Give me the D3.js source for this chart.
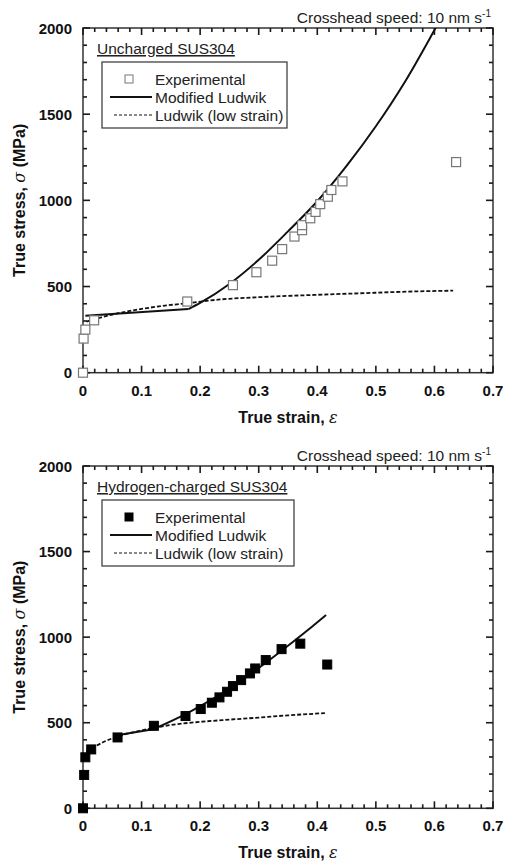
<!DOCTYPE html>
<html lang="en">
<head>
  <meta charset="UTF-8">
  <script src="https://d3js.org/d3.v7.min.js"></script>
  <style>
    body { margin: 0; background: #fff; }
    svg { display: block; font-family: "Liberation Sans", Arial, sans-serif; }
    .tick-label { font-size: 15px; font-weight: bold; fill: #111; }
    .axis-title { font-size: 16px; font-weight: bold; fill: #111; }
    .note { font-size: 15.5px; fill: #222; }
  </style>
</head>
<body>
<div id="chart"></div>
<script>
  // axis ticks
  const xTicks = [0, 0.1, 0.2, 0.3, 0.4, 0.5, 0.6, 0.7];
  const yTicks = [0, 500, 1000, 1500, 2000];
  const xMinor = [0.02, 0.04, 0.06, 0.08, 0.12, 0.14, 0.16, 0.18, 0.22, 0.24, 0.26, 0.28, 0.32, 0.34, 0.36, 0.38,
                  0.42, 0.44, 0.46, 0.48, 0.52, 0.54, 0.56, 0.58, 0.62, 0.64, 0.66, 0.68];
  const yMinor = [100, 200, 300, 400, 600, 700, 800, 900, 1100, 1200, 1300, 1400, 1600, 1700, 1800, 1900];

  // uncharged SUS304
  const unchargedExpStrain = [0, 0.001, 0.004, 0.019, 0.178, 0.256, 0.296, 0.323, 0.340, 0.361, 0.374, 0.374, 0.388, 0.397, 0.405, 0.418, 0.424, 0.443, 0.637];
  const unchargedExpStress = [0, 198, 250, 304, 413, 508, 583, 650, 717, 790, 827, 856, 896, 933, 978, 1021, 1060, 1110, 1222];
  // modified Ludwik: straight part up to the kink, then the curved part
  const unchargedModLowStrain = [0.004, 0.18];
  const unchargedModLowStress = [331, 369];
  const unchargedModHighStrain = [0.18, 0.2, 0.25, 0.3, 0.35, 0.4, 0.45, 0.5, 0.55, 0.602, 0.62];
  const unchargedModHighStress = [369, 405, 515, 655, 820, 995, 1200, 1430, 1690, 2000, 2110];
  const unchargedLowStrain = [0.006, 0.03, 0.06, 0.1, 0.15, 0.177, 0.234, 0.3, 0.4, 0.5, 0.541, 0.632];
  const unchargedLowStress = [297, 320, 345, 370, 393, 403, 425, 438, 452, 464, 469, 476];

  // hydrogen-charged SUS304
  const chargedExpStrain = [0, 0.002, 0.004, 0.014, 0.059, 0.121, 0.175, 0.201, 0.220, 0.233, 0.246, 0.256, 0.270, 0.285, 0.294, 0.312, 0.339, 0.371, 0.417];
  const chargedExpStress = [0, 195, 298, 344, 414, 482, 539, 580, 617, 648, 681, 714, 749, 788, 817, 866, 930, 962, 840];
  const chargedModLowStrain = [0.055, 0.12];
  const chargedModLowStress = [425, 462];
  const chargedModHighStrain = [0.12, 0.175, 0.2, 0.25, 0.3, 0.35, 0.385, 0.415];
  const chargedModHighStress = [462, 550, 597, 700, 820, 950, 1045, 1130];
  const chargedLowStrain = [0.006, 0.02, 0.04, 0.06, 0.1, 0.15, 0.2, 0.25, 0.3, 0.35, 0.413];
  const chargedLowStress = [330, 360, 395, 420, 455, 487, 505, 518, 530, 543, 556];

  const width = 505, height = 861;
  const svg = d3.select('#chart').append('svg').attr('width', width).attr('height', height);

  const zip = (xs, ys) => xs.map((x, i) => [x, ys[i]]);

  function drawPanel(cfg) {
    const x = d3.scaleLinear().domain([0, 0.7]).range([83, 493]);
    const y = d3.scaleLinear().domain([0, 2000]).range([cfg.bottom, cfg.top]);
    const g = svg.append('g');

    const clipId = 'clip' + cfg.id;
    svg.append('clipPath').attr('id', clipId)
      .append('rect').attr('x', 83).attr('y', cfg.top).attr('width', 410).attr('height', cfg.bottom - cfg.top);

    g.append('rect').attr('x', 83).attr('y', cfg.top).attr('width', 410).attr('height', cfg.bottom - cfg.top)
      .attr('fill', 'none').attr('stroke', '#333').attr('stroke-width', 1.5);

    // inward ticks on all four sides
    const tickG = g.append('g').attr('fill', '#1a1a1a');
    [[xTicks, 7], [xMinor, 4]].forEach(([vals, len]) => {
      tickG.selectAll(null).data(vals).enter().append('rect')
        .attr('x', d => x(d) - 0.8).attr('y', cfg.bottom - len).attr('width', 1.6).attr('height', len);
      tickG.selectAll(null).data(vals).enter().append('rect')
        .attr('x', d => x(d) - 0.8).attr('y', cfg.top).attr('width', 1.6).attr('height', len);
    });
    [[yTicks, 7], [yMinor, 4]].forEach(([vals, len]) => {
      tickG.selectAll(null).data(vals).enter().append('rect')
        .attr('x', 83).attr('y', d => y(d) - 0.8).attr('width', len).attr('height', 1.6);
      tickG.selectAll(null).data(vals).enter().append('rect')
        .attr('x', 493 - len).attr('y', d => y(d) - 0.8).attr('width', len).attr('height', 1.6);
    });

    // tick labels
    g.selectAll('.xl').data(xTicks).enter().append('text')
      .attr('class', 'tick-label').attr('x', d => x(d)).attr('y', cfg.bottom + 23)
      .attr('text-anchor', 'middle').text(d => d === 0 ? '0' : d3.format('.1f')(d));
    g.selectAll('.yl').data(yTicks).enter().append('text')
      .attr('class', 'tick-label').attr('x', 72).attr('y', d => y(d) + 5.5)
      .attr('text-anchor', 'end').text(d => d);

    // axis titles
    const xt = g.append('text').attr('class', 'axis-title').attr('x', 288).attr('y', cfg.bottom + 50)
      .attr('text-anchor', 'middle');
    xt.append('tspan').text('True strain, ');
    xt.append('tspan').attr('font-style', 'italic').attr('font-family', 'DejaVu Serif').attr('font-weight', 'normal').text('ε');

    const yt = g.append('text').attr('class', 'axis-title')
      .attr('transform', `translate(25,${(cfg.top + cfg.bottom) / 2}) rotate(-90)`)
      .attr('text-anchor', 'middle');
    yt.append('tspan').text('True stress, ');
    yt.append('tspan').attr('font-style', 'italic').attr('font-family', 'DejaVu Serif').attr('font-weight', 'normal').text('σ');
    yt.append('tspan').text(' (MPa)');

    // crosshead note
    const note = g.append('text').attr('class', 'note').attr('x', 491).attr('y', cfg.top - 5).attr('text-anchor', 'end');
    note.append('tspan').text('Crosshead speed: 10 nm s');
    note.append('tspan').attr('dy', -6).attr('font-size', 10).text('-1');

    // panel title (underlined)
    g.append('text').attr('class', 'note').attr('x', 97).attr('y', cfg.top + 26)
      .attr('text-decoration', 'underline').text(cfg.title);

    // curves
    const curve = d3.line().x(d => x(d[0])).y(d => y(d[1])).curve(d3.curveMonotoneX);
    const straight = d3.line().x(d => x(d[0])).y(d => y(d[1]));
    g.append('path').attr('d', straight(zip(cfg.modLowStrain, cfg.modLowStress)))
      .attr('fill', 'none').attr('stroke', '#111').attr('stroke-width', 2);
    g.append('path').attr('d', curve(zip(cfg.modHighStrain, cfg.modHighStress)))
      .attr('clip-path', `url(#${clipId})`)
      .attr('fill', 'none').attr('stroke', '#111').attr('stroke-width', 2);
    g.append('path').attr('d', curve(zip(cfg.lowStrain, cfg.lowStress)))
      .attr('fill', 'none').attr('stroke', '#111').attr('stroke-width', 1.8).attr('stroke-dasharray', '4,2');

    // experimental points
    const s = 9;
    g.selectAll('.pt').data(zip(cfg.expStrain, cfg.expStress)).enter().append('rect')
      .attr('x', d => x(d[0]) - s / 2).attr('y', d => y(d[1]) - s / 2)
      .attr('width', s).attr('height', s)
      .attr('fill', cfg.filled ? '#000' : '#fff')
      .attr('stroke', cfg.filled ? '#000' : '#777').attr('stroke-width', cfg.filled ? 1 : 1.2);

    // legend
    const lx = 102, ly = cfg.top + 34;
    g.append('rect').attr('x', lx).attr('y', ly).attr('width', cfg.legendW).attr('height', 66)
      .attr('fill', '#fff').attr('stroke', '#333').attr('stroke-width', 1.2);
    g.append('rect').attr('x', 129 - 4).attr('y', ly + 17 - 4).attr('width', 8).attr('height', 8)
      .attr('fill', cfg.filled ? '#000' : '#fff').attr('stroke', cfg.filled ? '#000' : '#777');
    g.append('line').attr('x1', 110).attr('x2', 152).attr('y1', ly + 35).attr('y2', ly + 35)
      .attr('stroke', '#111').attr('stroke-width', 2);
    g.append('line').attr('x1', 114).attr('x2', 152).attr('y1', ly + 53).attr('y2', ly + 53)
      .attr('stroke', '#111').attr('stroke-width', 1.2).attr('stroke-dasharray', '3,2');
    ['Experimental', 'Modified Ludwik', 'Ludwik (low strain)'].forEach((t, i) => {
      g.append('text').attr('class', 'note').attr('x', 155).attr('y', ly + 22.5 + i * 18).text(t);
    });
  }

  drawPanel({
    id: 'a', top: 28, bottom: 372.7, title: 'Uncharged SUS304', filled: false, legendW: 185,
    expStrain: unchargedExpStrain, expStress: unchargedExpStress,
    modLowStrain: unchargedModLowStrain, modLowStress: unchargedModLowStress,
    modHighStrain: unchargedModHighStrain, modHighStress: unchargedModHighStress,
    lowStrain: unchargedLowStrain, lowStress: unchargedLowStress
  });
  drawPanel({
    id: 'b', top: 466, bottom: 808.3, title: 'Hydrogen-charged SUS304', filled: true, legendW: 192,
    expStrain: chargedExpStrain, expStress: chargedExpStress,
    modLowStrain: chargedModLowStrain, modLowStress: chargedModLowStress,
    modHighStrain: chargedModHighStrain, modHighStress: chargedModHighStress,
    lowStrain: chargedLowStrain, lowStress: chargedLowStress
  });
</script>
</body>
</html>
